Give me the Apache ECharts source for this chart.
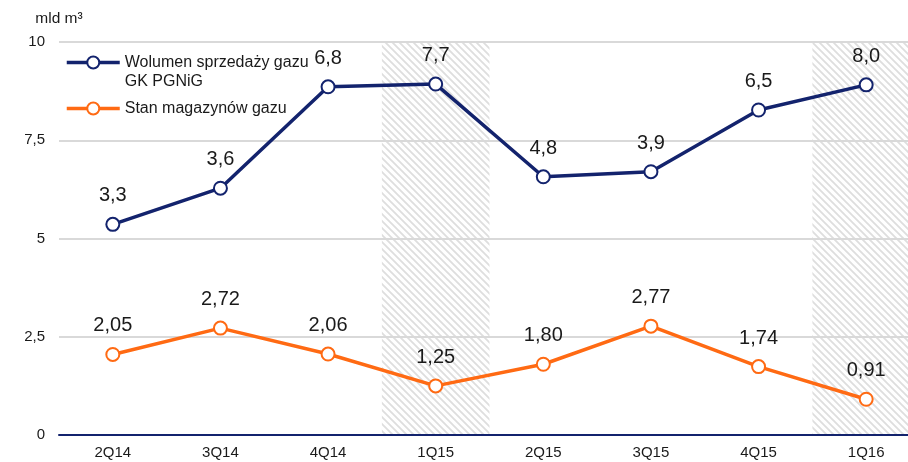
<!DOCTYPE html>
<html>
<head>
<meta charset="utf-8">
<script src="https://cdn.jsdelivr.net/npm/echarts@6/dist/echarts.min.js"></script>
<style>
  html, body { margin: 0; padding: 0; background: #fff; }
  #chart { width: 908px; height: 462px; }
</style>
</head>
<body>
<div id="chart"></div>
<script>
// quarters on the x axis
const categories = ['2Q14', '3Q14', '4Q14', '1Q15', '2Q15', '3Q15', '4Q15', '1Q16'];
// sales volume: height where each point is drawn, and the value printed over it
const salesPlotted = [5.36, 6.28, 8.86, 8.93, 6.57, 6.70, 8.27, 8.91];
const salesLabels = ['3,3', '3,6', '6,8', '7,7', '4,8', '3,9', '6,5', '8,0'];
// gas in storage
const storage = [2.05, 2.72, 2.06, 1.25, 1.80, 2.77, 1.74, 0.91];
// hatched quarters
const shadedQuarters = ['1Q15', '1Q16'];
const yMax = 10;

const NAVY = '#13236d';
const ORANGE = '#ff6a13';
const TEXT = '#1a1a1a';
const FONT = '"Liberation Sans", Arial, sans-serif';

// diagonal hatch pattern for the shaded quarters
const makeHatch = () => {
  const c = document.createElement('canvas');
  c.width = 7;
  c.height = 7;
  const ctx = c.getContext('2d');
  ctx.strokeStyle = '#dedede';
  ctx.lineWidth = 1.8;
  ctx.beginPath();
  [-7, 0, 7].forEach(dx => {
    ctx.moveTo(dx - 1, -1);
    ctx.lineTo(dx + 8, 8);
  });
  ctx.stroke();
  return c;
};

const comma = v => String(v).replace('.', ',');

const legendBase = {
  left: 65, padding: 0,
  itemWidth: 53, itemHeight: 15, itemGap: 5,
  lineStyle: { width: 3.5 },
  itemStyle: { borderWidth: 3 },
  textStyle: { fontSize: 16, color: TEXT, lineHeight: 19 }
};

const chart = echarts.init(document.getElementById('chart'));
chart.setOption({
  animation: false,
  textStyle: { fontFamily: FONT },
  grid: { left: 59, width: 861, top: 42, bottom: 27, outerBoundsMode: 'none', containLabel: false },
  legend: [
    Object.assign({}, legendBase, {
      data: ['Wolumen sprzedaży gazu\nGK PGNiG'],
      top: 34,
      formatter: n => ' \n' + n
    }),
    Object.assign({}, legendBase, {
      data: ['Stan magazynów gazu'],
      top: 99
    })
  ],
  xAxis: {
    type: 'category',
    data: categories,
    boundaryGap: true,
    axisLine: { lineStyle: { color: NAVY, width: 2 } },
    axisTick: { show: false },
    axisLabel: { fontSize: 15, color: TEXT, margin: 10 }
  },
  yAxis: {
    type: 'value',
    min: 0, max: yMax, interval: 2.5,
    name: 'mld m³',
    nameLocation: 'end',
    nameGap: 15,
    nameTextStyle: { fontSize: 15.5, color: TEXT },
    axisLine: { show: false },
    axisTick: { show: false },
    axisLabel: { fontSize: 15, color: TEXT, margin: 14, formatter: comma },
    splitLine: { lineStyle: { color: '#d9d9d9', width: 2 } }
  },
  series: [
    {
      name: 'hatch',
      type: 'bar',
      z: -1,
      barWidth: '100%',
      silent: true,
      data: categories.map(c => (shadedQuarters.includes(c) ? yMax : null)),
      itemStyle: { color: { image: makeHatch(), repeat: 'repeat' } }
    },
    {
      name: 'Wolumen sprzedaży gazu\nGK PGNiG',
      type: 'line',
      data: salesPlotted,
      color: NAVY,
      symbol: 'emptyCircle',
      symbolSize: 13,
      itemStyle: { borderWidth: 3 },
      lineStyle: { width: 3.5, color: NAVY },
      label: {
        show: true, position: 'top', distance: 11,
        fontSize: 20, color: TEXT,
        formatter: p => salesLabels[p.dataIndex]
      }
    },
    {
      name: 'Stan magazynów gazu',
      type: 'line',
      data: storage,
      color: ORANGE,
      symbol: 'emptyCircle',
      symbolSize: 13,
      itemStyle: { borderWidth: 3 },
      lineStyle: { width: 3.5, color: ORANGE },
      label: {
        show: true, position: 'top', distance: 11,
        fontSize: 20, color: TEXT,
        formatter: p => p.value.toFixed(2).replace('.', ',')
      }
    }
  ]
});
</script>
</body>
</html>
